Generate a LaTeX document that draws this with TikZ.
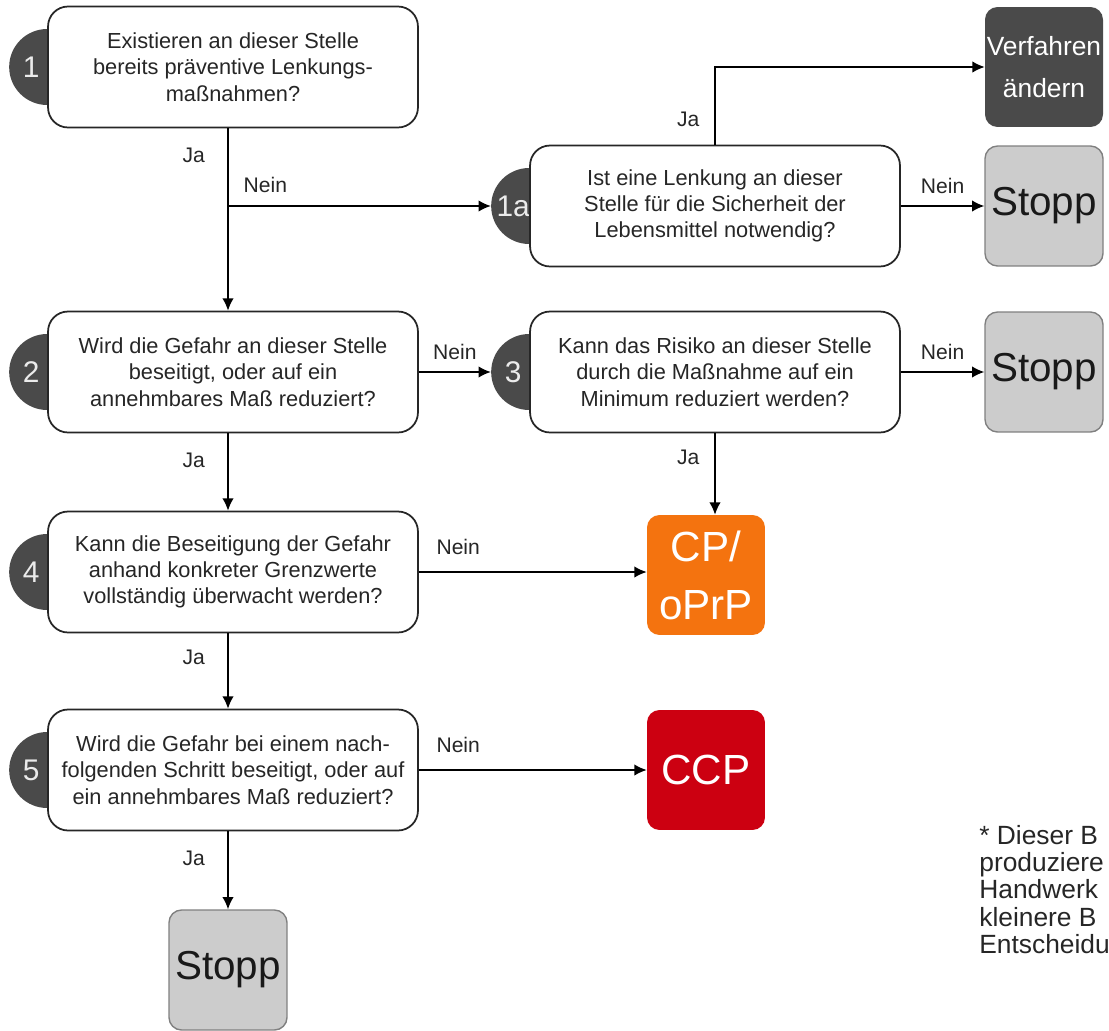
\documentclass[tikz,border=0pt]{standalone}
\usepackage{fontspec}
\setmainfont{Liberation Sans}
\usetikzlibrary{arrows.meta, backgrounds, calc, positioning}
\definecolor{badgegray}{HTML}{4A4A4A}
\definecolor{stopgray}{HTML}{CCCCCC}
\definecolor{cporange}{HTML}{F4730F}
\definecolor{ccpred}{HTML}{CC0011}
\tikzset{
    >={Latex[length=7pt, width=6.5pt]},
    question/.style={draw=black!85, line width=1pt, fill=white, rounded corners=0.4cm,
        minimum width=7.4cm, minimum height=2.42cm, align=center, text=black!85,
        font=\fontsize{12.4}{15}\selectfont},
    badge/.style={circle, fill=badgegray, minimum size=1.52cm, inner sep=0pt},
    badgenum/.style={text=white!92!black, font=\fontsize{17}{17}\selectfont, xshift=-0.32cm},
    result/.style={rounded corners=0.25cm, minimum width=2.36cm, minimum height=2.4cm,
        inner sep=0pt, align=center},
    stopbox/.style={result, draw=black!50, line width=0.8pt, fill=stopgray, text=black!90,
        font=\fontsize{23}{23}\selectfont},
    answer/.style={font=\fontsize{12}{12}\selectfont, text=black!85, inner sep=0pt},
    flow/.style={->, line width=0.8pt},
}

\begin{document}
\begin{tikzpicture}[x=0.02cm, y=-0.02cm]
    \useasboundingbox (0,0) rectangle (1109,1031);
    % questions
    \node[question] (q1) at (233,67) {Existieren an dieser Stelle\\bereits präventive Lenkungs-\\maßnahmen?};
    \node[question] (q1a) at (715,206) {Ist eine Lenkung an dieser\\Stelle für die Sicherheit der\\Lebensmittel notwendig?};
    \node[question] (q2) at (233,372) {Wird die Gefahr an dieser Stelle\\beseitigt, oder auf ein\\annehmbares Maß reduziert?};
    \node[question] (q3) at (715,372) {Kann das Risiko an dieser Stelle\\durch die Maßnahme auf ein\\Minimum reduziert werden?};
    \node[question] (q4) at (233,572) {Kann die Beseitigung der Gefahr\\anhand konkreter Grenzwerte\\vollständig überwacht werden?};
    \node[question] (q5) at (233,770) {Wird die Gefahr bei einem nach-\\folgenden Schritt beseitigt, oder auf\\ein annehmbares Maß reduziert?};
    \begin{scope}[on background layer]
        \foreach \q/\num in {q1/1, q1a/1a, q2/2, q3/3, q4/4, q5/5}
            \node[badge, label={[badgenum]center:\num}] (b\q) at (\q.west) {};
    \end{scope}
    % outcomes
    \node[result, fill=badgegray, text=white, font=\fontsize{15}{24}\selectfont] (change) at (1044,67) {Verfahren\\ändern};
    \node[stopbox] (stop1) at (1044,206) {Stopp};
    \node[stopbox] (stop2) at (1044,372) {Stopp};
    \node[result, fill=cporange, text=white, font=\fontsize{24}{33}\selectfont] (cp) at (706,575) {CP/\\oPrP};
    \node[result, fill=ccpred, text=white, font=\fontsize{24}{24}\selectfont] (ccp) at (706,770) {CCP};
    \node[stopbox] (stop3) at (228,970) {Stopp};
    \node[answer, anchor=north west, align=left, font=\fontsize{15}{15.5}\selectfont] (note) at (979,825)
        {* Dieser B\\produziere\\Handwerk\\kleinere B\\Entscheidu};
    % connectors
    \draw[flow] (q1.south -| stop3) -- (q2.north -| stop3) node[answer, pos=0.15, left=0.45cm] {Ja};
    \draw[flow] (stop3 |- bq1a.west) -- (bq1a.west) node[answer, pos=0, above right=0.26cm and 0.3cm] {Nein};
    \draw[flow] (q1a.north) |- (change.west) node[answer, pos=0.16, left=0.3cm] {Ja};
    \draw[flow] (q1a.east) -- (stop1.west) node[answer, midway, above=0.24cm] {Nein};
    \draw[flow] (q2.east) -- (bq3.west) node[answer, midway, above=0.24cm] {Nein};
    \draw[flow] (q3.east) -- (stop2.west) node[answer, midway, above=0.24cm] {Nein};
    \draw[flow] (q2.south -| stop3) -- (q4.north -| stop3) node[answer, pos=0.35, left=0.45cm] {Ja};
    \draw[flow] (q3.south) -- (q3.south |- cp.north) node[answer, pos=0.3, left=0.3cm] {Ja};
    \draw[flow] (q4.east) -- (q4.east -| cp.west) node[answer, pos=0, above right=0.34cm and 0.34cm] {Nein};
    \draw[flow] (q4.south -| stop3) -- (q5.north -| stop3) node[answer, pos=0.32, left=0.45cm] {Ja};
    \draw[flow] (q5.east) -- (ccp.west) node[answer, pos=0, above right=0.34cm and 0.34cm] {Nein};
    \draw[flow] (q5.south -| stop3) -- (stop3.north) node[answer, pos=0.34, left=0.45cm] {Ja};
\end{tikzpicture}
\end{document}
